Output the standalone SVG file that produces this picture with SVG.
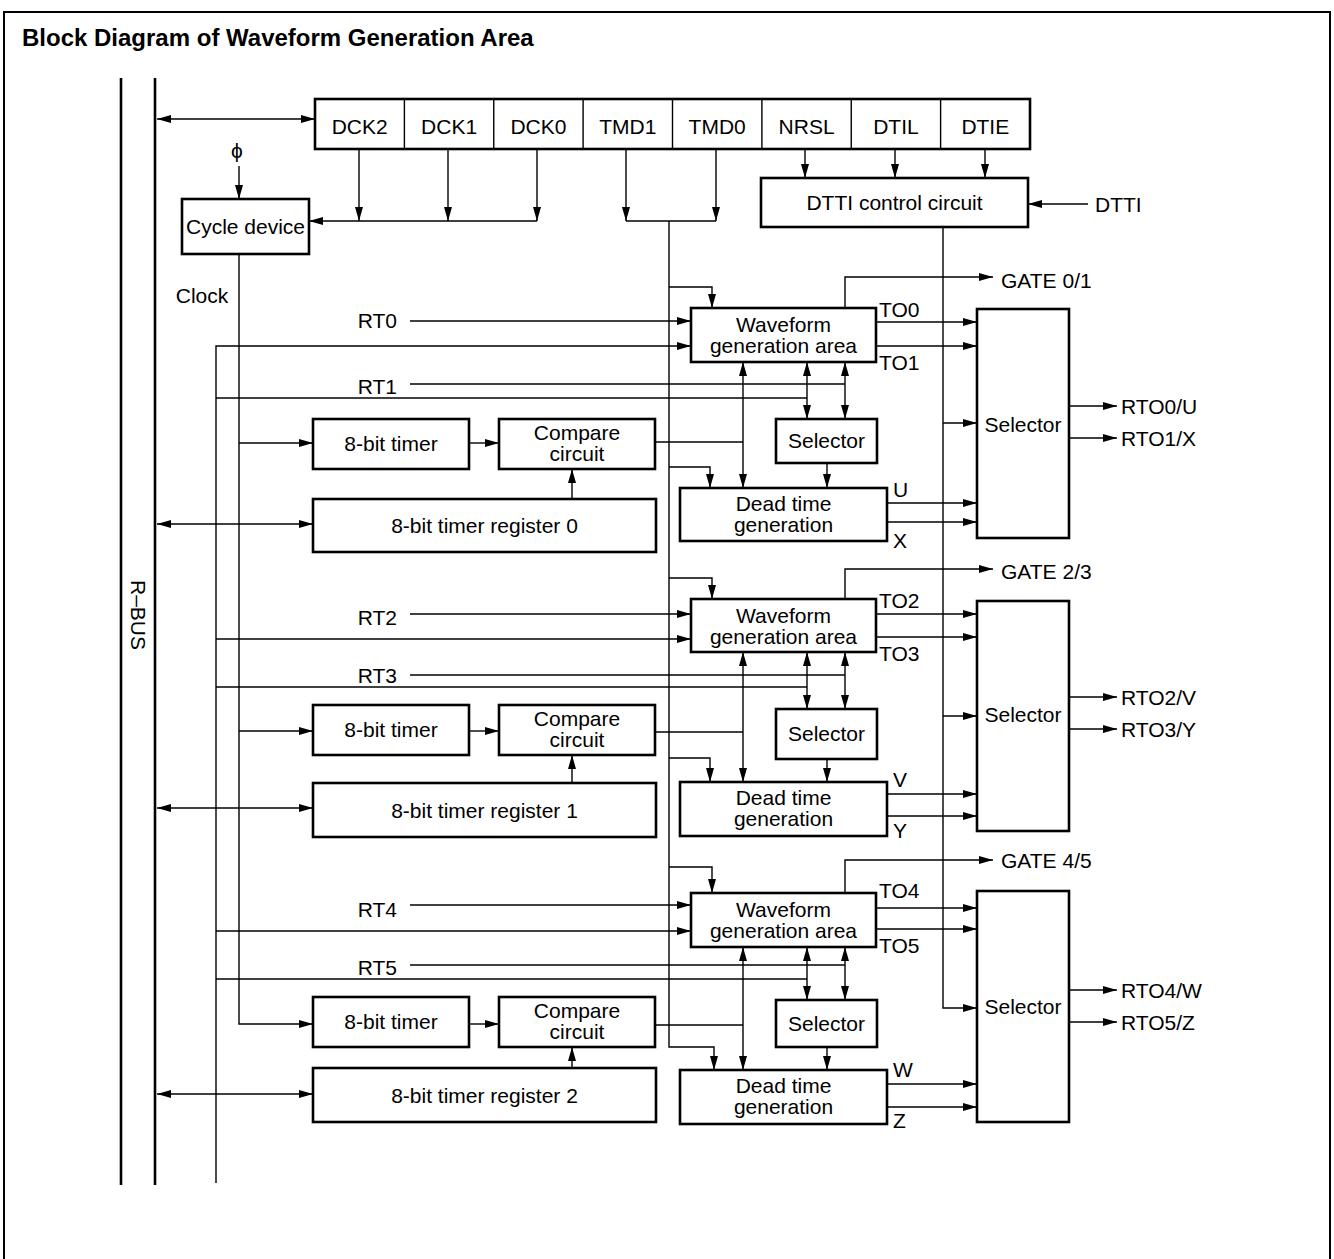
<svg xmlns="http://www.w3.org/2000/svg" width="1334" height="1259" viewBox="0 0 1334 1259">
<defs>
<marker id="ah" viewBox="0 0 14 8" refX="14" refY="4" markerWidth="14" markerHeight="8" orient="auto-start-reverse" markerUnits="userSpaceOnUse"><path d="M0,0 L14,4 L0,8 z" fill="#000"/></marker>
<style>
.box{fill:#fff;stroke:#000;stroke-width:2.6}
.ln{fill:none;stroke:#000;stroke-width:1.4}
.bus{fill:none;stroke:#000;stroke-width:2.6}
.arr{marker-end:url(#ah)}
.bi{marker-start:url(#ah);marker-end:url(#ah)}
text{font-family:"Liberation Sans",Arial,sans-serif;font-size:21px;fill:#000}
.c{text-anchor:middle}
.e{text-anchor:end}
.title{font-weight:bold;font-size:24px}
</style>
</defs>
<rect x="0" y="0" width="1334" height="1259" fill="#fff"/>
<rect x="4" y="12" width="1326" height="1262" fill="none" stroke="#000" stroke-width="2"/>
<text class="title" x="22" y="46">Block Diagram of Waveform Generation Area</text>

<g id="rbus">
<line class="bus" x1="121" y1="78" x2="121" y2="1185"/>
<line class="bus" x1="155" y1="78" x2="155" y2="1185"/>
<text class="c" transform="translate(131,615) rotate(90)">R–BUS</text>
</g>

<g id="connectors">
<path class="ln bi" d="M157,119 H315"/>
<text class="c" x="237" y="158">ϕ</text>
<path class="ln arr" d="M239,166 V199"/>
<path class="ln arr" d="M359,149 V221"/>
<path class="ln arr" d="M448,149 V221"/>
<path class="ln arr" d="M537,149 V221"/>
<path class="ln arr" d="M537,221 H309"/>
<path class="ln arr" d="M626,149 V221"/>
<path class="ln arr" d="M716,149 V221"/>
<path class="ln" d="M626,221 H716"/>
<path class="ln arr" d="M669,221 V1047 H714 V1070"/>
<path class="ln arr" d="M805,149 V178"/>
<path class="ln arr" d="M895,149 V178"/>
<path class="ln arr" d="M985,149 V178"/>
<path class="ln arr" d="M1088,204 H1028"/>
<path class="ln arr" d="M943,227 V1008 H977"/>
<path class="ln arr" d="M943,423 H977"/>
<path class="ln arr" d="M943,716 H977"/>
<path class="ln arr" d="M239,254 V1024 H313"/>
<path class="ln arr" d="M239,443 H313"/>
<path class="ln arr" d="M239,731 H313"/>
<path class="ln arr" d="M216,1183 V346 H691"/>
<path class="ln" d="M216,398 H807"/>
<path class="ln arr" d="M216,639 H691"/>
<path class="ln" d="M216,687 H807"/>
<path class="ln arr" d="M216,931 H691"/>
<path class="ln" d="M216,979 H807"/>

<!-- block 1 -->
<path class="ln arr" d="M410,321 H691"/>
<path class="ln" d="M410,384 H845"/>
<path class="ln arr" d="M669,287 H712 V308"/>
<path class="ln arr" d="M845,308 V277 H993"/>
<path class="ln arr" d="M876,322 H977"/>
<path class="ln arr" d="M876,346 H977"/>
<path class="ln bi" d="M743,362 V488"/>
<path class="ln bi" d="M807,362 V419"/>
<path class="ln bi" d="M845,362 V419"/>
<path class="ln arr" d="M827,463 V488"/>
<path class="ln arr" d="M669,467 H710 V488"/>
<path class="ln" d="M655,442 H743"/>
<path class="ln arr" d="M469,443 H499"/>
<path class="ln arr" d="M572,499 V469"/>
<path class="ln bi" d="M157,524 H313"/>
<path class="ln arr" d="M887,503 H977"/>
<path class="ln arr" d="M887,522 H977"/>
<path class="ln arr" d="M1069,406 H1117"/>
<path class="ln arr" d="M1069,438 H1117"/>

<!-- block 2 -->
<path class="ln arr" d="M410,614 H691"/>
<path class="ln" d="M410,675 H845"/>
<path class="ln arr" d="M669,578 H712 V599"/>
<path class="ln arr" d="M845,599 V569 H993"/>
<path class="ln arr" d="M876,614 H977"/>
<path class="ln arr" d="M876,637 H977"/>
<path class="ln bi" d="M743,652 V782"/>
<path class="ln bi" d="M807,652 V709"/>
<path class="ln bi" d="M845,652 V709"/>
<path class="ln arr" d="M827,759 V782"/>
<path class="ln arr" d="M669,758 H710 V782"/>
<path class="ln" d="M655,732 H743"/>
<path class="ln arr" d="M469,731 H499"/>
<path class="ln arr" d="M572,783 V755"/>
<path class="ln bi" d="M157,808 H313"/>
<path class="ln arr" d="M887,794 H977"/>
<path class="ln arr" d="M887,816 H977"/>
<path class="ln arr" d="M1069,697 H1117"/>
<path class="ln arr" d="M1069,729 H1117"/>

<!-- block 3 -->
<path class="ln arr" d="M410,905 H691"/>
<path class="ln" d="M410,965 H845"/>
<path class="ln arr" d="M669,867 H712 V893"/>
<path class="ln arr" d="M845,893 V860 H993"/>
<path class="ln arr" d="M876,908 H977"/>
<path class="ln arr" d="M876,929 H977"/>
<path class="ln bi" d="M743,947 V1070"/>
<path class="ln bi" d="M807,947 V1000"/>
<path class="ln bi" d="M845,947 V1000"/>
<path class="ln arr" d="M827,1047 V1070"/>
<path class="ln" d="M655,1025 H743"/>
<path class="ln arr" d="M469,1024 H499"/>
<path class="ln arr" d="M572,1068 V1047"/>
<path class="ln bi" d="M157,1094 H313"/>
<path class="ln arr" d="M887,1084 H977"/>
<path class="ln arr" d="M887,1107 H977"/>
<path class="ln arr" d="M1069,990 H1117"/>
<path class="ln arr" d="M1069,1022 H1117"/>

<text x="202" y="303" class="c">Clock</text>
<text x="397" y="328" class="e">RT0</text>
<text x="397" y="394" class="e">RT1</text>
<text x="397" y="625" class="e">RT2</text>
<text x="397" y="683" class="e">RT3</text>
<text x="397" y="917" class="e">RT4</text>
<text x="397" y="975" class="e">RT5</text>
<text x="1095" y="212">DTTI</text>
<text x="1001" y="288">GATE 0/1</text>
<text x="1001" y="579">GATE 2/3</text>
<text x="1001" y="868">GATE 4/5</text>
<text x="879" y="317">TO0</text>
<text x="879" y="370">TO1</text>
<text x="879" y="608">TO2</text>
<text x="879" y="661">TO3</text>
<text x="879" y="898">TO4</text>
<text x="879" y="953">TO5</text>
<text x="893" y="497">U</text>
<text x="893" y="548">X</text>
<text x="893" y="787">V</text>
<text x="893" y="838">Y</text>
<text x="893" y="1077">W</text>
<text x="893" y="1128">Z</text>
<text x="1121" y="414">RTO0/U</text>
<text x="1121" y="446">RTO1/X</text>
<text x="1121" y="705">RTO2/V</text>
<text x="1121" y="737">RTO3/Y</text>
<text x="1121" y="998">RTO4/W</text>
<text x="1121" y="1030">RTO5/Z</text>
</g>

<g id="control-register">
<rect class="box" x="315" y="99" width="715" height="50"/>
<path class="ln" d="M404.4,99 V149 M493.75,99 V149 M583.1,99 V149 M672.5,99 V149 M761.9,99 V149 M851.25,99 V149 M940.6,99 V149"/>
<text class="c" x="359.7" y="134">DCK2</text>
<text class="c" x="449.1" y="134">DCK1</text>
<text class="c" x="538.4" y="134">DCK0</text>
<text class="c" x="627.8" y="134">TMD1</text>
<text class="c" x="717.2" y="134">TMD0</text>
<text class="c" x="806.6" y="134">NRSL</text>
<text class="c" x="895.9" y="134">DTIL</text>
<text class="c" x="985.3" y="134">DTIE</text>
</g>

<g id="cycle-device"><rect class="box" x="182" y="199" width="127" height="55"/><text class="c" x="245.5" y="234">Cycle device</text></g>
<g id="dtti-control"><rect class="box" x="761" y="178" width="267" height="49"/><text class="c" x="894.5" y="210">DTTI control circuit</text></g>

<g id="timer0"><rect class="box" x="313" y="419" width="156" height="50"/><text class="c" x="391" y="451">8-bit timer</text></g>
<g id="compare0"><rect class="box" x="499" y="419" width="156" height="50"/><text class="c" x="577" y="440">Compare</text><text class="c" x="577" y="461">circuit</text></g>
<g id="timer-reg0"><rect class="box" x="313" y="499" width="343" height="53"/><text class="c" x="484.5" y="533">8-bit timer register 0</text></g>
<g id="waveform0"><rect class="box" x="691" y="308" width="185" height="54"/><text class="c" x="783.5" y="332">Waveform</text><text class="c" x="783.5" y="353">generation area</text></g>
<g id="selector0"><rect class="box" x="776" y="419" width="101" height="44"/><text class="c" x="826.5" y="448">Selector</text></g>
<g id="deadtime0"><rect class="box" x="680" y="488" width="207" height="53"/><text class="c" x="783.5" y="511">Dead time</text><text class="c" x="783.5" y="532">generation</text></g>
<g id="out-selector0"><rect class="box" x="977" y="309" width="92" height="229"/><text class="c" x="1023" y="432">Selector</text></g>

<g id="timer1"><rect class="box" x="313" y="705" width="156" height="50"/><text class="c" x="391" y="737">8-bit timer</text></g>
<g id="compare1"><rect class="box" x="499" y="705" width="156" height="50"/><text class="c" x="577" y="726">Compare</text><text class="c" x="577" y="747">circuit</text></g>
<g id="timer-reg1"><rect class="box" x="313" y="783" width="343" height="54"/><text class="c" x="484.5" y="818">8-bit timer register 1</text></g>
<g id="waveform1"><rect class="box" x="691" y="599" width="185" height="53"/><text class="c" x="783.5" y="623">Waveform</text><text class="c" x="783.5" y="644">generation area</text></g>
<g id="selector1"><rect class="box" x="776" y="709" width="101" height="50"/><text class="c" x="826.5" y="741">Selector</text></g>
<g id="deadtime1"><rect class="box" x="680" y="782" width="207" height="54"/><text class="c" x="783.5" y="805">Dead time</text><text class="c" x="783.5" y="826">generation</text></g>
<g id="out-selector1"><rect class="box" x="977" y="601" width="92" height="230"/><text class="c" x="1023" y="722">Selector</text></g>

<g id="timer2"><rect class="box" x="313" y="997" width="156" height="50"/><text class="c" x="391" y="1029">8-bit timer</text></g>
<g id="compare2"><rect class="box" x="499" y="997" width="156" height="50"/><text class="c" x="577" y="1018">Compare</text><text class="c" x="577" y="1039">circuit</text></g>
<g id="timer-reg2"><rect class="box" x="313" y="1068" width="343" height="54"/><text class="c" x="484.5" y="1103">8-bit timer register 2</text></g>
<g id="waveform2"><rect class="box" x="691" y="893" width="185" height="54"/><text class="c" x="783.5" y="917">Waveform</text><text class="c" x="783.5" y="938">generation area</text></g>
<g id="selector2"><rect class="box" x="776" y="1000" width="101" height="47"/><text class="c" x="826.5" y="1031">Selector</text></g>
<g id="deadtime2"><rect class="box" x="680" y="1070" width="207" height="54"/><text class="c" x="783.5" y="1093">Dead time</text><text class="c" x="783.5" y="1114">generation</text></g>
<g id="out-selector2"><rect class="box" x="977" y="891" width="92" height="231"/><text class="c" x="1023" y="1014">Selector</text></g>
</svg>
